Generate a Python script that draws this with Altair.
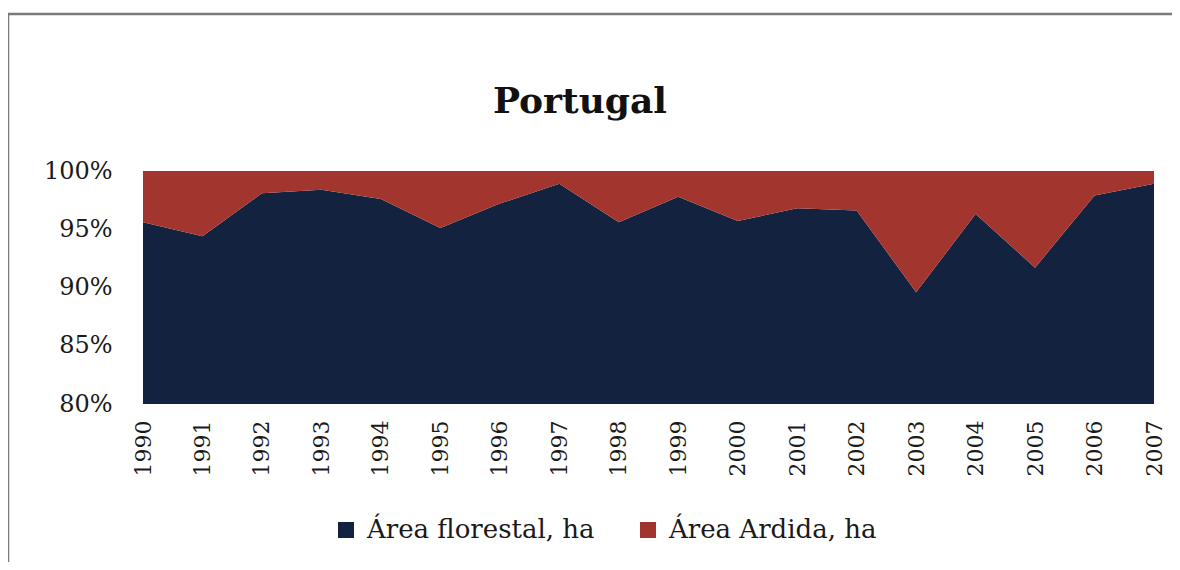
import altair as alt
import pandas as pd

# ---- data (share of total area, %) ----
years = [1990, 1991, 1992, 1993, 1994, 1995, 1996, 1997, 1998,
         1999, 2000, 2001, 2002, 2003, 2004, 2005, 2006, 2007]
florestal_pct = [95.6, 94.4, 98.1, 98.4, 97.6, 95.1, 97.2, 98.9, 95.6,
                 97.8, 95.7, 96.8, 96.6, 89.6, 96.3, 91.7, 97.9, 98.9]
ardida_pct = [4.4, 5.6, 1.9, 1.6, 2.4, 4.9, 2.8, 1.1, 4.4,
              2.2, 4.3, 3.2, 3.4, 10.4, 3.7, 8.3, 2.1, 1.1]
series_names = ["Área florestal, ha", "Área Ardida, ha"]
series_colors = ["#13223F", "#A3352F"]
y_ticks = [0.80, 0.85, 0.90, 0.95, 1.00]
title_text = "Portugal"

rows = []
for i, y in enumerate(years):
    rows.append({"year": y, "series": series_names[0], "value": florestal_pct[i], "ord": 0})
    rows.append({"year": y, "series": series_names[1], "value": ardida_pct[i], "ord": 1})
df = pd.DataFrame(rows)

FONT = "DejaVu Serif"
TXT = "#1a1a1a"

area = alt.Chart(df).mark_area(clip=True, opacity=1).encode(
    x=alt.X("year:Q",
            scale=alt.Scale(domain=[years[0], years[-1]], nice=False, zero=False),
            axis=alt.Axis(values=years, format="d", labelAngle=270, domain=False,
                          ticks=False, grid=False, labelFont=FONT, labelFontSize=22,
                          labelColor=TXT, labelPadding=16, title=None,
                          labelOverlap=False)),
    y=alt.Y("value:Q", stack="normalize",
            scale=alt.Scale(domain=[0.8, 1.0], nice=False, zero=False),
            axis=alt.Axis(values=y_ticks, format=".0%", domain=False, ticks=False,
                          grid=False, labelFont=FONT, labelFontSize=24,
                          labelColor=TXT, labelPadding=31, title=None)),
    color=alt.Color("series:N",
                    scale=alt.Scale(domain=series_names, range=series_colors),
                    sort=series_names,
                    legend=alt.Legend(orient="none", legendX=190, legendY=346,
                                      direction="horizontal", title=None,
                                      symbolType="square", symbolSize=256,
                                      symbolStrokeWidth=0, labelFont=FONT,
                                      labelFontSize=26, labelColor=TXT,
                                      labelOffset=8, columnPadding=40,
                                      labelLimit=400)),
    order=alt.Order("ord:Q"),
)

title_df = pd.DataFrame({"t": [title_text]})
title = alt.Chart(title_df).mark_text(
    font=FONT, fontSize=36, fontWeight="bold", color="#111111",
    align="center", baseline="alphabetic").encode(
    text="t:N", x=alt.value(437), y=alt.value(-58))

frame_df = pd.DataFrame({"k": [0]})
top_border = alt.Chart(frame_df).mark_rule(color="#7a7a7a", strokeWidth=2.5).encode(
    x=alt.value(-135), x2=alt.value(1030), y=alt.value(-157))
left_border = alt.Chart(frame_df).mark_rule(color="#7a7a7a", strokeWidth=2.5).encode(
    x=alt.value(-135), y=alt.value(-157), y2=alt.value(392))

chart = alt.layer(area, title, top_border, left_border).properties(
    width=1011,
    height=233,
    autosize=alt.AutoSizeParams(type="none"),
    padding={"left": 135, "top": 163, "right": 18, "bottom": 158},
).configure_view(stroke=None)

chart.save("out.html", embed_options={"renderer": "svg", "actions": False})
